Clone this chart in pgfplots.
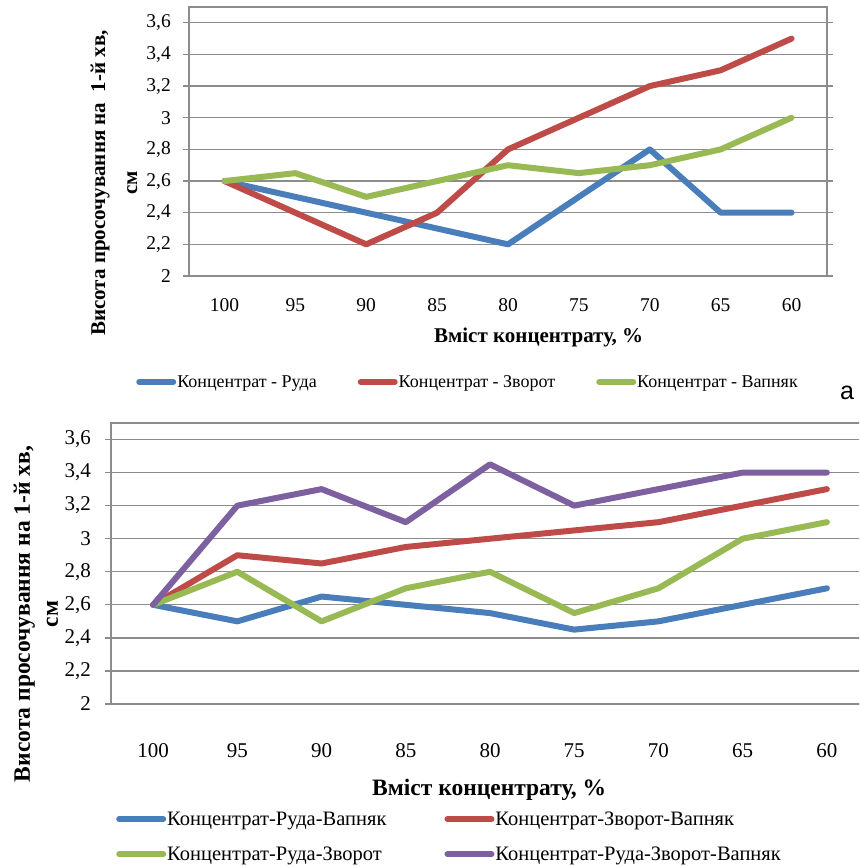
\documentclass[border=0pt]{standalone}
\usepackage{pgfplots}
\pgfplotsset{compat=1.18}
\usepackage{fontspec}
\setmainfont{Liberation Serif}
\newfontfamily\arialfont{Liberation Sans}

\definecolor{sBlue}{HTML}{4A7EBB}
\definecolor{sRed}{HTML}{BE4B48}
\definecolor{sGreen}{HTML}{98B954}
\definecolor{sPurple}{HTML}{7D60A0}
\definecolor{gridgray}{HTML}{8C8C8C}

\pgfplotsset{
  excelline/.style={
    scale only axis,
    xmin=-0.5, xmax=8.5, ymin=2, ymax=3.7,
    xtick={0,...,8},
    xticklabels={100,95,90,85,80,75,70,65,60},
    ytick={2,2.2,2.4,2.6,2.8,3,3.2,3.4,3.6},
    ymajorgrids,
    major grid style={gridgray, line width=1.3pt},
    axis line style={gridgray, line width=1.3pt},
    x tick style={draw=none},
    y tick style={gridgray, line width=1.3pt},
    tick align=outside, major tick length=6pt,
    /pgf/number format/use comma,
    /pgf/number format/assume math mode=true,
    every axis plot/.append style={line width=6pt, line join=round, line cap=round},
    legend cell align=left,
  }
}

\begin{document}
\begin{tikzpicture}[x=1pt,y=1pt]
\useasboundingbox (0,0) rectangle (859,866);
\clip (0,0) rectangle (859,866);

% ---------- upper chart: two-component mixtures ----------
\begin{axis}[excelline,
  at={(189pt,590pt)}, anchor=south west,
  width=638pt, height=269pt,
  xticklabel style={font=\fontsize{19.5}{19.5}\selectfont, anchor=center, yshift=-23pt},
  yticklabel style={font=\fontsize{19.5}{19.5}\selectfont, anchor=east, inner sep=0pt, xshift=-12pt},
  xlabel={Вміст концентрату, \%},
  xlabel style={font=\bfseries\fontsize{21}{21}\selectfont, at={(axis description cs:0.548,-0.227)}, anchor=center},
  legend image code/.code={\draw[#1, line cap=round] (0pt,0pt) -- (34pt,0pt);},
  legend style={at={(-0.083,-0.394)}, anchor=west, draw=none, fill=none, inner sep=0pt,
    legend columns=3, font=\fontsize{18}{18}\selectfont,
    nodes={inner xsep=1pt, inner ysep=2pt},
    /tikz/every even column/.append style={column sep=40pt}},
]
\addplot[sBlue] coordinates {(0,2.6) (1,2.5) (2,2.4) (3,2.3) (4,2.2) (5,2.5) (6,2.8) (7,2.4) (8,2.4)};
\addlegendentry{Концентрат - Руда}
\addplot[sRed] coordinates {(0,2.6) (1,2.4) (2,2.2) (3,2.4) (4,2.8) (5,3.0) (6,3.2) (7,3.3) (8,3.5)};
\addlegendentry{Концентрат - Зворот}
\addplot[sGreen] coordinates {(0,2.6) (1,2.65) (2,2.5) (3,2.6) (4,2.7) (5,2.65) (6,2.7) (7,2.8) (8,3.0)};
\addlegendentry{Концентрат - Вапняк}
\end{axis}

% ---------- lower chart: three- and four-component mixtures ----------
\begin{axis}[excelline,
  at={(111pt,162pt)}, anchor=south west,
  width=758pt, height=281pt,
  xticklabel style={font=\fontsize{21}{21}\selectfont, anchor=center, yshift=-41pt},
  yticklabel style={font=\fontsize{21}{21}\selectfont, anchor=east, inner sep=0pt, xshift=-14pt},
  xlabel={Вміст концентрату, \%},
  xlabel style={font=\bfseries\fontsize{23.5}{23.5}\selectfont, at={(axis description cs:0.499,-0.306)}, anchor=center},
  legend image code/.code={\draw[#1, line cap=round] (0pt,0pt) -- (44pt,0pt);},
  legend style={at={(0.0066,-0.375)}, anchor=north west, draw=none, fill=none, inner sep=0pt,
    legend columns=2, font=\fontsize{20.5}{20.5}\selectfont, row sep=16pt,
    nodes={inner xsep=1pt, inner ysep=2pt},
    /tikz/every even column/.append style={column sep=57pt}},
]
\addplot[sBlue] coordinates {(0,2.6) (1,2.5) (2,2.65) (3,2.6) (4,2.55) (5,2.45) (6,2.5) (7,2.6) (8,2.7)};
\addlegendentry{Концентрат-Руда-Вапняк}
\addplot[sRed] coordinates {(0,2.6) (1,2.9) (2,2.85) (3,2.95) (4,3.0) (5,3.05) (6,3.1) (7,3.2) (8,3.3)};
\addlegendentry{Концентрат-Зворот-Вапняк}
\addplot[sGreen] coordinates {(0,2.6) (1,2.8) (2,2.5) (3,2.7) (4,2.8) (5,2.55) (6,2.7) (7,3.0) (8,3.1)};
\addlegendentry{Концентрат-Руда-Зворот}
\addplot[sPurple] coordinates {(0,2.6) (1,3.2) (2,3.3) (3,3.1) (4,3.45) (5,3.2) (6,3.3) (7,3.4) (8,3.4)};
\addlegendentry{Концентрат-Руда-Зворот-Вапняк}
\end{axis}

% axis titles for the vertical axes
\node[rotate=90, align=center, font=\bfseries\fontsize{21}{32}\selectfont] at (114,683)
  {Висота просочування на\ \ 1-й хв,\\см};
\node[rotate=90, align=center, font=\bfseries\fontsize{23.5}{28}\selectfont] at (36,252)
  {Висота просочування на 1-й хв,\\см};

% panel letter
\node[font=\arialfont\fontsize{25}{25}\selectfont] at (847,473) {а};
\end{tikzpicture}
\end{document}
